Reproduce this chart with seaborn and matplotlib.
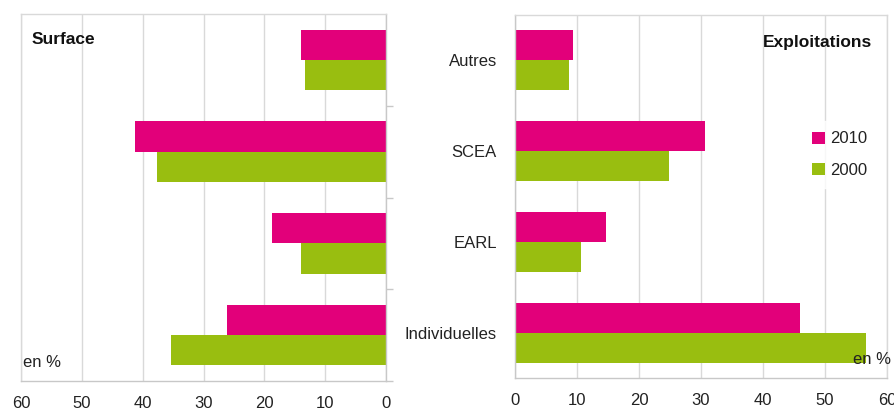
import numpy as np
import pandas as pd
import matplotlib
matplotlib.use("Agg")
import matplotlib.pyplot as plt
import seaborn as sns

# Répartition par statut juridique (en %)
categories = ["Autres", "SCEA", "EARL", "Individuelles"]
years = ["2010", "2000"]
surface_2010 = [13.9, 41.3, 18.8, 26.1]
surface_2000 = [13.4, 37.7, 13.9, 35.3]
exploit_2010 = [9.4, 30.7, 14.7, 45.9]
exploit_2000 = [8.7, 24.8, 10.6, 56.6]
x_ticks = [0, 10, 20, 30, 40, 50, 60]

palette = {"2010": "#E2007A", "2000": "#99BE10"}
grid_col = "#D9D9D9"
axis_col = "#C8C8C8"

sns.set_theme(style="white")
plt.rcParams["font.family"] = ["Liberation Sans", "DejaVu Sans"]


def long_table(v2010, v2000):
    return pd.DataFrame({
        "statut": categories * 2,
        "annee": ["2010"] * 4 + ["2000"] * 4,
        "valeur": list(v2010) + list(v2000),
    })


fig = plt.figure(figsize=(8.95, 4.12), dpi=100)
ax_l = fig.add_axes([0.0235, 0.0752, 0.4078, 0.8908])
ax_r = fig.add_axes([0.5754, 0.0825, 0.4156, 0.8811])

for ax, (a, b) in ((ax_l, (surface_2010, surface_2000)),
                   (ax_r, (exploit_2010, exploit_2000))):
    sns.barplot(data=long_table(a, b), y="statut", x="valeur", hue="annee",
                order=categories, hue_order=years, palette=palette,
                orient="h", width=0.66, saturation=1, linewidth=0,
                legend=(ax is ax_r), ax=ax)
    ax.set_xlim(0, 60)
    ax.set_ylim(3.5, -0.5)
    ax.set_xticks(x_ticks)
    ax.set_xlabel("")
    ax.set_ylabel("")
    ax.set_axisbelow(True)
    ax.grid(axis="x", color=grid_col, linewidth=1.0)
    ax.grid(axis="y", visible=False)
    for s in ax.spines.values():
        s.set_color(grid_col)
        s.set_linewidth(1.0)
    ax.set_yticks([0.5, 1.5, 2.5, 3.5], minor=True)
    ax.tick_params(axis="x", which="major", length=5, width=1, color=axis_col,
                   direction="out", labelsize=12, pad=6, labelcolor="#222222")
    ax.tick_params(axis="y", which="minor", length=5, width=1, color=axis_col,
                   direction="out")
    ax.spines["bottom"].set_color(axis_col)

# Left panel: mirrored axis, category axis on the right
ax_l.set_xlim(60, 0)
ax_l.yaxis.tick_right()
ax_l.set_yticks(range(4))
ax_l.set_yticklabels([])
ax_l.tick_params(axis="y", which="major", length=0)
ax_l.spines["right"].set_color(axis_col)
ax_l.text(0.03, 0.93, "Surface", transform=ax_l.transAxes, fontsize=12.5,
          fontweight="bold", ha="left", va="center", color="#111111")
ax_l.text(0.005, 0.05, "en %", transform=ax_l.transAxes, fontsize=12,
          ha="left", va="center", color="#222222")

# Right panel
ax_r.set_yticks(range(4))
ax_r.set_yticklabels(categories)
ax_r.tick_params(axis="y", which="major", length=0, pad=13, labelsize=12,
                 labelcolor="#222222")
ax_r.spines["left"].set_color(axis_col)
ax_r.text(0.96, 0.925, "Exploitations", transform=ax_r.transAxes,
          fontsize=12.5, fontweight="bold", ha="right", va="center",
          color="#111111")
ax_r.text(1.012, 0.05, "en %", transform=ax_r.transAxes, fontsize=12,
          ha="right", va="center", color="#222222")
leg = ax_r.legend(loc="center left", bbox_to_anchor=(0.75, 0.615),
                  frameon=True, fontsize=12, handlelength=0.75,
                  handleheight=0.75, handletextpad=0.3, labelspacing=1.0,
                  borderpad=0.6, fancybox=False)
leg.get_frame().set_facecolor("white")
leg.get_frame().set_edgecolor("white")
for t in leg.get_texts():
    t.set_color("#222222")

fig.savefig("out.png", dpi=100, facecolor="white")
